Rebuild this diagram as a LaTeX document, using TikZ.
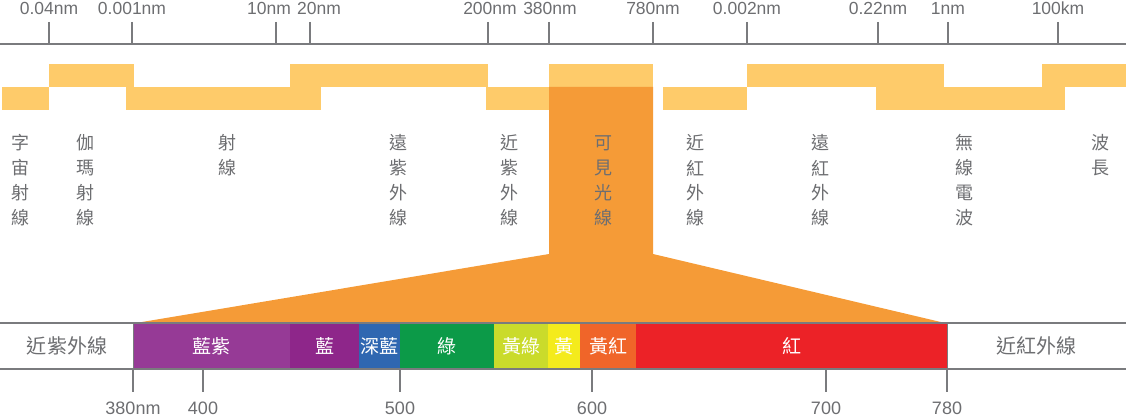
\documentclass[tikz,border=0pt]{standalone}
\usepackage{fontspec}
\setmainfont{Liberation Sans}
\newfontfamily\cjk{Noto Sans CJK TC}
\definecolor{axisgray}{HTML}{7A7B7E}
\definecolor{txtgray}{HTML}{6D6E71}
\definecolor{bandlight}{HTML}{FECB6A}
\definecolor{bandorange}{HTML}{F59B37}
\definecolor{specviolet}{HTML}{963A96}
\definecolor{specindigo}{HTML}{8E268A}
\definecolor{specdeep}{HTML}{2F67B1}
\definecolor{specgreen}{HTML}{0C9A48}
\definecolor{specyg}{HTML}{CADB2B}
\definecolor{specyellow}{HTML}{F4EB1C}
\definecolor{specorange}{HTML}{F06529}
\definecolor{specred}{HTML}{EC2227}
\begin{document}
\begin{tikzpicture}[x=1pt, y=-1pt,
		axisline/.style={axisgray, line width=2pt},
		tickline/.style={axisgray, line width=2pt},
		numlbl/.style={txtgray, font=\fontsize{17.5}{17.5}\selectfont, anchor=base, inner sep=0pt},
		bandlbl/.style={txtgray, font=\cjk\fontsize{18}{18}\selectfont, inner sep=0pt},
		barlbl/.style={white, font=\cjk\fontsize{19}{19}\selectfont, inner sep=0pt}]
			\useasboundingbox (0,0) rectangle (1126,419);
			\draw[axisline] (0,44) -- (1126,44);
			\foreach \x/\lx/\txt [count=\i] in {49/49/0.04nm, 132/132/0.001nm, 276/269/10nm, 310/319/20nm, 488/490/200nm, 549/550/380nm, 653/653/780nm, 747/747/0.002nm, 878/878/0.22nm, 948/948/1nm, 1058/1058/100km} {
					\draw[tickline] (\x,22) -- (\x,44);
					\node[numlbl] (top\i) at (\lx,15) {\txt};
				}
			\foreach \xa/\xb in {49/134, 290/488, 549/653, 747/944, 1042/1126}
				\fill[bandlight] (\xa,64) rectangle (\xb,87);
			\foreach \xa/\xb in {2/49, 126/321, 486/549, 663/747, 876/1065}
				\fill[bandlight] (\xa,87) rectangle (\xb,110);
			\fill[bandorange] (549,87) -- (653,87) -- (653,254) -- (945,323) -- (136,323) -- (549,254) -- cycle;
			\foreach \x/\txt [count=\j] in {21/{字,宙,射,線}, 85/{伽,瑪,射,線}, 227/{射,線}, 398/{遠,紫,外,線}, 509/{近,紫,外,線}, 603/{可,見,光,線}, 695/{近,紅,外,線}, 820/{遠,紅,外,線}, 964/{無,線,電,波}, 1100/{波,長}} {
					\foreach \c [count=\i] in \txt {
							\node[bandlbl] (band\j-\i) at (\x,118+25*\i) {\c};
						}
				}
			\foreach \xa/\xb/\col/\txt [count=\i] in {133/290/specviolet/藍紫, 290/359/specindigo/藍, 359/400/specdeep/深藍, 400/494/specgreen/綠, 494/548/specyg/黃綠, 548/580/specyellow/黃, 580/636/specorange/黃紅, 636/947/specred/紅} {
					\fill[\col] (\xa,323) rectangle (\xb,369);
					\node[barlbl] (spec\i) at ({(\xa+\xb)/2},346) {\txt};
				}
			\node[bandlbl, font=\cjk\fontsize{20}{20}\selectfont] (uvnear) at (67,346) {近紫外線};
			\node[bandlbl, font=\cjk\fontsize{20}{20}\selectfont] (irnear) at (1036,346) {近紅外線};
			\draw[axisline] (0,323) -- (1126,323);
			\draw[axisline] (0,369) -- (1126,369);
			\draw[axisgray, line width=1pt] (133,323) -- (133,369);
			\draw[axisgray, line width=1pt] (947,323) -- (947,369);
			\foreach \x/\txt [count=\i] in {133/380nm, 203/400, 400/500, 592/600, 826/700, 947/780} {
					\draw[tickline] (\x,369) -- (\x,392);
					\node[numlbl, font=\fontsize{18}{18}\selectfont] (bot\i) at (\x,414) {\txt};
				}
		\end{tikzpicture}
\end{document}
